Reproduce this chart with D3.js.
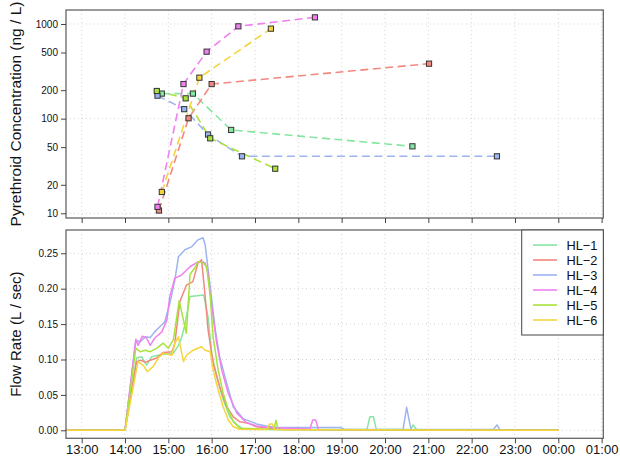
<!DOCTYPE html>
<html>
<head>
<meta charset="utf-8">
<script src="https://cdn.jsdelivr.net/npm/d3@7"></script>
<style>
  html, body { margin: 0; padding: 0; background: #fff; }
  svg { display: block; font-family: "Liberation Sans", Arial, Helvetica, sans-serif; }
</style>
</head>
<body>
<svg id="chart" width="620" height="456"></svg>
<script>
// ---- series names and colours ----
const seriesNames = ["HL-1", "HL-2", "HL-3", "HL-4", "HL-5", "HL-6"];
const seriesColors = ["#86e6a0", "#f2887f", "#9cb4ef", "#ef80ee", "#a9e23c", "#f6d43c"];

// ---- axis ticks ----
const hourTicks = ["13:00", "14:00", "15:00", "16:00", "17:00", "18:00", "19:00",
                   "20:00", "21:00", "22:00", "23:00", "00:00", "01:00"];
const concTicks = [10, 20, 50, 100, 200, 500, 1000];
const concGrid = [10, 100, 1000];
const flowTicks = [0, 0.05, 0.10, 0.15, 0.20, 0.25];

// ---- pyrethroid concentration samples (time, ng/L) ----
const concHL1 = [["14:51", 184], ["15:34", 184], ["16:27", 76], ["20:38", 51]];
const concHL2 = [["14:47", 10.7], ["15:28", 101], ["16:00", 232], ["21:01", 381]];
const concHL3 = [["14:45", 175], ["15:22", 126], ["15:55", 68], ["16:42", 40], ["22:35", 40]];
const concHL4 = [["14:45", 11.7], ["15:21", 232], ["15:53", 510], ["16:37", 945], ["18:23", 1176]];
const concHL5 = [["14:44", 196], ["15:24", 164], ["15:58", 62], ["17:28", 29.6]];
const concHL6 = [["14:51", 16.8], ["15:43", 271], ["17:22", 893]];

// ---- flow rate records (time, L/sec) ----
const flowHL1 = [["12:38", 0], ["14:00", 0], ["14:16", 0.102], ["14:23", 0.104], ["14:30", 0.092],
  ["14:37", 0.104], ["14:46", 0.106], ["14:58", 0.108], ["15:07", 0.109], ["15:14", 0.120],
  ["15:18", 0.130], ["15:23", 0.149], ["15:30", 0.189], ["15:40", 0.190], ["15:49", 0.191],
  ["15:55", 0.160], ["16:00", 0.109], ["16:07", 0.076], ["16:16", 0.043], ["16:25", 0.019],
  ["16:35", 0.0075], ["16:44", 0.0015], ["17:30", 0.001], ["19:35", 0.001], ["19:39", 0.019],
  ["19:44", 0.019], ["19:48", 0.001], ["20:35", 0.001], ["20:39", 0.0075], ["20:44", 0.001],
  ["00:00", 0]];
const flowHL2 = [["12:38", 0], ["14:00", 0], ["14:16", 0.097], ["14:22", 0.099], ["14:28", 0.096],
  ["14:35", 0.099], ["14:44", 0.102], ["14:53", 0.110], ["15:05", 0.111], ["15:09", 0.123],
  ["15:16", 0.182], ["15:25", 0.205], ["15:34", 0.210], ["15:41", 0.236], ["15:46", 0.241],
  ["15:51", 0.189], ["15:55", 0.142], ["16:02", 0.095], ["16:11", 0.062], ["16:21", 0.033],
  ["16:30", 0.019], ["16:39", 0.012], ["16:51", 0.010], ["17:02", 0.005], ["17:21", 0.003],
  ["17:40", 0.001], ["00:00", 0]];
const flowHL3 = [["12:38", 0], ["14:00", 0], ["14:15", 0.127], ["14:21", 0.125], ["14:28", 0.132],
  ["14:35", 0.131], ["14:41", 0.139], ["14:51", 0.149], ["14:55", 0.153], ["15:02", 0.179],
  ["15:09", 0.212], ["15:14", 0.245], ["15:23", 0.255], ["15:32", 0.259], ["15:41", 0.269],
  ["15:48", 0.272], ["15:51", 0.262], ["15:53", 0.245], ["15:58", 0.203], ["16:05", 0.142],
  ["16:11", 0.104], ["16:21", 0.066], ["16:30", 0.033], ["16:44", 0.016], ["16:53", 0.013],
  ["17:02", 0.009], ["17:16", 0.006], ["17:30", 0.004], ["18:58", 0.004], ["19:05", 0.001],
  ["20:25", 0.001], ["20:30", 0.0325], ["20:36", 0.001], ["22:30", 0.001], ["22:35", 0.0075],
  ["22:39", 0.001], ["00:00", 0]];
const flowHL4 = [["12:38", 0], ["14:00", 0], ["14:15", 0.1285], ["14:18", 0.120], ["14:24", 0.133],
  ["14:30", 0.130], ["14:35", 0.120], ["14:41", 0.130], ["14:51", 0.139], ["14:58", 0.156],
  ["15:02", 0.189], ["15:09", 0.215], ["15:18", 0.219], ["15:30", 0.231], ["15:41", 0.238],
  ["15:47", 0.238], ["15:51", 0.236], ["15:55", 0.222], ["16:00", 0.175], ["16:07", 0.123],
  ["16:14", 0.085], ["16:23", 0.052], ["16:35", 0.024], ["16:48", 0.011], ["17:02", 0.006],
  ["17:20", 0.004], ["18:16", 0.002], ["18:20", 0.0146], ["18:24", 0.0146], ["18:28", 0.001],
  ["00:00", 0]];
const flowHL5 = [["12:38", 0], ["14:00", 0], ["14:15", 0.116], ["14:21", 0.111], ["14:28", 0.113],
  ["14:35", 0.111], ["14:44", 0.116], ["14:53", 0.123], ["15:00", 0.116], ["15:07", 0.128],
  ["15:15", 0.183], ["15:25", 0.137], ["15:30", 0.220], ["15:37", 0.230], ["15:41", 0.238],
  ["15:48", 0.237], ["15:53", 0.231], ["15:58", 0.189], ["16:02", 0.132], ["16:09", 0.085],
  ["16:16", 0.052], ["16:23", 0.029], ["16:30", 0.012], ["16:39", 0.003], ["17:26", 0.001],
  ["17:29", 0.014], ["17:32", 0.001], ["00:00", 0]];
const flowHL6 = [["12:38", 0], ["14:00", 0], ["14:18", 0.097], ["14:25", 0.092], ["14:31", 0.083],
  ["14:39", 0.090], ["14:46", 0.102], ["14:53", 0.109], ["15:05", 0.106], ["15:09", 0.123],
  ["15:14", 0.132], ["15:21", 0.097], ["15:25", 0.106], ["15:34", 0.113], ["15:46", 0.118],
  ["15:51", 0.113], ["15:58", 0.111], ["16:02", 0.085], ["16:09", 0.057], ["16:16", 0.033],
  ["16:23", 0.0145], ["16:30", 0.005], ["16:39", 0.0015], ["17:17", 0.001], ["17:20", 0.009],
  ["17:24", 0.009], ["17:27", 0.001], ["00:00", 0]];

const concSeries = [concHL1, concHL2, concHL3, concHL4, concHL5, concHL6];
const flowSeries = [flowHL1, flowHL2, flowHL3, flowHL4, flowHL5, flowHL6];

// clock times before noon belong to the following day
function toTime(s) {
  const [h, m] = s.split(":").map(Number);
  return new Date(2020, 5, 1, h < 12 ? h + 24 : h, m);
}

const svg = d3.select("#chart");
const left = 66, right = 603.3;
const topPanel = { y0: 10, y1: 218 };
const botPanel = { y0: 230, y1: 438.3 };

const x = d3.scaleTime()
  .domain([new Date(2020, 5, 1, 12, 38, 18), new Date(2020, 5, 1, 25, 2, 18)])
  .range([left, right]);

const yConc = d3.scaleLog().domain([8.92, 1406]).range([topPanel.y1, topPanel.y0]);
const yFlow = d3.scaleLinear().domain([-0.0113, 0.2829]).range([botPanel.y1, botPanel.y0]);

const hourDates = hourTicks.map(toTime);
const gridColor = "#d4d4d4";
const frameColor = "#666";

function drawGrid(g, yScale, yVals, panel) {
  g.append("g").selectAll("line.v").data(hourDates).join("line")
    .attr("x1", d => x(d)).attr("x2", d => x(d))
    .attr("y1", panel.y0).attr("y2", panel.y1)
    .attr("stroke", gridColor).attr("stroke-dasharray", "1,3");
  g.append("g").selectAll("line.h").data(yVals).join("line")
    .attr("x1", left).attr("x2", right)
    .attr("y1", d => yScale(d)).attr("y2", d => yScale(d))
    .attr("stroke", gridColor).attr("stroke-dasharray", "1,3");
}

function styleAxis(g, size) {
  g.select(".domain").remove();
  g.selectAll(".tick line").attr("stroke", "#444");
  g.selectAll(".tick text").attr("fill", "#111").style("font-size", size + "px");
}

// ---------- top panel: concentrations ----------
const gTop = svg.append("g");
drawGrid(gTop, yConc, concGrid, topPanel);

concSeries.forEach((data, i) => {
  const pts = data.map(d => [toTime(d[0]), d[1]]);
  gTop.append("path")
    .datum(pts)
    .attr("fill", "none")
    .attr("stroke", seriesColors[i])
    .attr("stroke-width", 1.6)
    .attr("stroke-dasharray", "8,4.5")
    .attr("d", d3.line().x(d => x(d[0])).y(d => yConc(d[1])));
});
concSeries.forEach((data, i) => {
  gTop.append("g").selectAll("rect").data(data).join("rect")
    .attr("x", d => x(toTime(d[0])) - 2.6)
    .attr("y", d => yConc(d[1]) - 2.6)
    .attr("width", 5.2).attr("height", 5.2)
    .attr("fill", seriesColors[i])
    .attr("stroke", "#333").attr("stroke-width", 1);
});

gTop.append("rect")
  .attr("x", left).attr("y", topPanel.y0)
  .attr("width", right - left).attr("height", topPanel.y1 - topPanel.y0)
  .attr("fill", "none").attr("stroke", frameColor).attr("stroke-width", 1.3);

gTop.append("g")
  .attr("transform", `translate(${left},0)`)
  .call(d3.axisLeft(yConc).tickValues(concTicks).tickFormat(d3.format("d")).tickSize(5).tickPadding(3))
  .call(g => styleAxis(g, 10));

gTop.append("g")
  .attr("transform", `translate(0,${topPanel.y1})`)
  .call(d3.axisBottom(x).tickValues(hourDates).tickFormat("").tickSize(5))
  .call(g => styleAxis(g, 12));

// ---------- bottom panel: flow rates ----------
const gBot = svg.append("g");
drawGrid(gBot, yFlow, flowTicks, botPanel);

flowSeries.forEach((data, i) => {
  const pts = data.map(d => [toTime(d[0]), d[1]]);
  gBot.append("path")
    .datum(pts)
    .attr("fill", "none")
    .attr("stroke", seriesColors[i])
    .attr("stroke-width", 1.5)
    .attr("stroke-linejoin", "round")
    .attr("d", d3.line().x(d => x(d[0])).y(d => yFlow(d[1])));
});

gBot.append("rect")
  .attr("x", left).attr("y", botPanel.y0)
  .attr("width", right - left).attr("height", botPanel.y1 - botPanel.y0)
  .attr("fill", "none").attr("stroke", frameColor).attr("stroke-width", 1.3);

gBot.append("g")
  .attr("transform", `translate(${left},0)`)
  .call(d3.axisLeft(yFlow).tickValues(flowTicks).tickFormat(d3.format(".2f")).tickSize(5).tickPadding(3))
  .call(g => styleAxis(g, 10));

gBot.append("g")
  .attr("transform", `translate(0,${botPanel.y1})`)
  .call(d3.axisBottom(x).tickValues(hourDates).tickFormat(d3.timeFormat("%H:%M")).tickSize(5).tickPadding(1.5))
  .call(g => styleAxis(g, 13));

// ---------- legend ----------
const lg = svg.append("g");
lg.append("rect")
  .attr("x", 521.7).attr("y", botPanel.y0)
  .attr("width", right - 521.7).attr("height", 105)
  .attr("fill", "#fff").attr("stroke", "#444").attr("stroke-width", 1);
seriesNames.forEach((name, i) => {
  const yy = 245 + i * 15;
  lg.append("line")
    .attr("x1", 533).attr("x2", 557).attr("y1", yy).attr("y2", yy)
    .attr("stroke", seriesColors[i]).attr("stroke-width", 1.6);
  lg.append("text")
    .attr("x", 566.5).attr("y", yy).attr("dy", "0.36em")
    .style("font-size", "12.8px").attr("fill", "#111")
    .text(name.replace("-", "\u2212"));
});

// ---------- axis titles ----------
svg.append("text")
  .attr("transform", `translate(20.5,${(topPanel.y0 + topPanel.y1) / 2}) rotate(-90)`)
  .attr("text-anchor", "middle")
  .style("font-size", "15.5px").attr("fill", "#111")
  .text("Pyrethroid Concentration (ng / L)");
svg.append("text")
  .attr("transform", `translate(20.5,${(botPanel.y0 + botPanel.y1) / 2}) rotate(-90)`)
  .attr("text-anchor", "middle")
  .style("font-size", "15px").attr("fill", "#111")
  .text("Flow Rate (L / sec)");
</script>
</body>
</html>
